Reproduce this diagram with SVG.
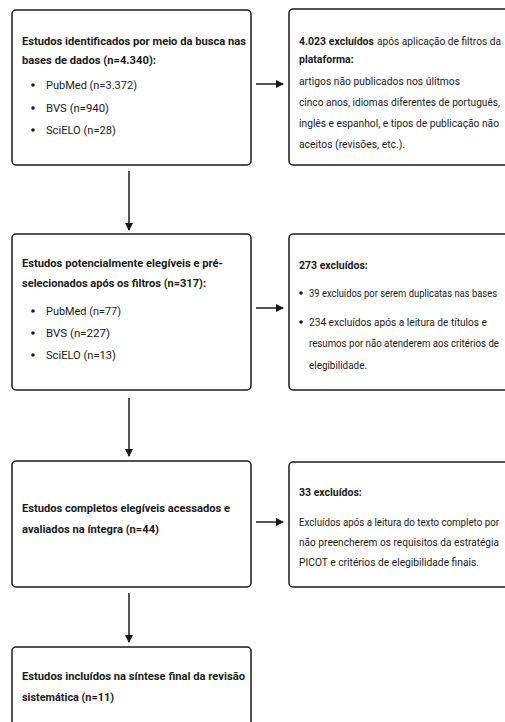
<svg xmlns="http://www.w3.org/2000/svg" width="505" height="722" viewBox="0 0 505 722">
<style>
.box{fill:#fff;stroke:#1a1a1a;stroke-width:1.5}
text{font-family:Roboto,"Noto Sans","Liberation Sans",sans-serif;font-size:11px;fill:#1a1a1a}
.b{font-weight:bold}
.r{font-size:10.3px}
.rs{font-size:10px}
.rb{font-size:10.5px;font-weight:bold}
.c{stroke:#1a1a1a;stroke-width:1.5;fill:none}
.dot{fill:#1a1a1a}
</style>
<defs>
<marker id="ah" markerWidth="8" markerHeight="8" refX="7" refY="4" orient="auto" markerUnits="userSpaceOnUse">
<path d="M0,0 L8,4 L0,8 Z" fill="#1a1a1a"/>
</marker>
</defs>
<rect width="505" height="722" fill="#fff"/>
<g id="connectors">
<line class="c" x1="256" y1="84" x2="283" y2="84" marker-end="url(#ah)"/>
<line class="c" x1="256" y1="308" x2="283" y2="308" marker-end="url(#ah)"/>
<line class="c" x1="256" y1="522" x2="283" y2="522" marker-end="url(#ah)"/>
<line class="c" x1="129" y1="171" x2="129" y2="230" marker-end="url(#ah)"/>
<line class="c" x1="129" y1="398" x2="129" y2="456" marker-end="url(#ah)"/>
<line class="c" x1="129" y1="593" x2="129" y2="642" marker-end="url(#ah)"/>
</g>
<g id="n1">
<rect class="box" x="12" y="10" width="239" height="155" rx="4"/>
<text class="b" x="22" y="45" textLength="224" lengthAdjust="spacingAndGlyphs">Estudos identificados por meio da busca nas</text>
<text class="b" x="22" y="64" textLength="134" lengthAdjust="spacingAndGlyphs">bases de dados (n=4.340):</text>
<circle class="dot" cx="33" cy="85" r="1.8"/><text x="46" y="89" textLength="91" lengthAdjust="spacingAndGlyphs">PubMed (n=3.372)</text>
<circle class="dot" cx="33" cy="108" r="1.8"/><text x="46" y="112" textLength="63" lengthAdjust="spacingAndGlyphs">BVS (n=940)</text>
<circle class="dot" cx="33" cy="130" r="1.8"/><text x="46" y="134" textLength="70" lengthAdjust="spacingAndGlyphs">SciELO (n=28)</text>
</g>
<g id="n2">
<rect class="box" x="289" y="9" width="230" height="156" rx="4"/>
<text class="rb" x="299" y="45">4.023 excluídos</text>
<text class="r" x="377" y="45" textLength="124" lengthAdjust="spacingAndGlyphs">após aplicação de filtros da</text>
<text class="rb" x="299" y="63">plataforma:</text>
<text class="r" x="299" y="85" textLength="161" lengthAdjust="spacingAndGlyphs">artigos não publicados nos úlitmos</text>
<text class="r" x="299" y="106" textLength="201" lengthAdjust="spacingAndGlyphs">cinco anos, idiomas diferentes de português,</text>
<text class="r" x="299" y="127" textLength="200" lengthAdjust="spacingAndGlyphs">inglês e espanhol, e tipos de publicação não</text>
<text class="r" x="299" y="148" textLength="106" lengthAdjust="spacingAndGlyphs">aceitos (revisões, etc.).</text>
</g>
<g id="n3">
<rect class="box" x="12" y="234" width="239" height="156" rx="4"/>
<text class="b" x="22" y="267" textLength="201" lengthAdjust="spacingAndGlyphs">Estudos potencialmente elegíveis e pré-</text>
<text class="b" x="22" y="287" textLength="184" lengthAdjust="spacingAndGlyphs">selecionados após os filtros (n=317):</text>
<circle class="dot" cx="33" cy="311" r="1.8"/><text x="46" y="315" textLength="75" lengthAdjust="spacingAndGlyphs">PubMed (n=77)</text>
<circle class="dot" cx="33" cy="333" r="1.8"/><text x="46" y="337" textLength="64" lengthAdjust="spacingAndGlyphs">BVS (n=227)</text>
<circle class="dot" cx="33" cy="355" r="1.8"/><text x="46" y="359" textLength="70" lengthAdjust="spacingAndGlyphs">SciELO (n=13)</text>
</g>
<g id="n4">
<rect class="box" x="289" y="234" width="230" height="156" rx="4"/>
<text class="rb" x="299" y="269">273 excluídos:</text>
<circle class="dot" cx="301" cy="293" r="1.8"/><text x="309" y="297" font-size="9.7" textLength="188" lengthAdjust="spacingAndGlyphs">39 excluídos por serem duplicatas nas bases</text>
<circle class="dot" cx="301" cy="322" r="1.8"/><text class="r" x="309" y="326" textLength="178" lengthAdjust="spacingAndGlyphs">234 excluídos após a leitura de títulos e</text>
<text class="rs" x="309" y="347" textLength="190" lengthAdjust="spacingAndGlyphs">resumos por não atenderem aos critérios de</text>
<text class="r" x="309" y="369" textLength="58" lengthAdjust="spacingAndGlyphs">elegibilidade.</text>
</g>
<g id="n5">
<rect class="box" x="12" y="461" width="239" height="126" rx="4"/>
<text class="b" x="22" y="512" textLength="208" lengthAdjust="spacingAndGlyphs">Estudos completos elegíveis acessados e</text>
<text class="b" x="22" y="533" textLength="137" lengthAdjust="spacingAndGlyphs">avaliados na íntegra (n=44)</text>
</g>
<g id="n6">
<rect class="box" x="289" y="462" width="230" height="125" rx="4"/>
<text class="rb" x="299" y="496">33 excluídos:</text>
<text class="rs" x="299" y="526" textLength="200" lengthAdjust="spacingAndGlyphs">Excluídos após a leitura do texto completo por</text>
<text class="r" x="299" y="546" textLength="200" lengthAdjust="spacingAndGlyphs">não preencherem os requisitos da estratégia</text>
<text class="r" x="299" y="566" textLength="180" lengthAdjust="spacingAndGlyphs">PICOT e critérios de elegibilidade finais.</text>
</g>
<g id="n7">
<rect class="box" x="12" y="647" width="239" height="90" rx="4"/>
<text class="b" x="22" y="680" textLength="223" lengthAdjust="spacingAndGlyphs">Estudos incluídos na síntese final da revisão</text>
<text class="b" x="22" y="701" textLength="92" lengthAdjust="spacingAndGlyphs">sistemática (n=11)</text>
</g>
</svg>
